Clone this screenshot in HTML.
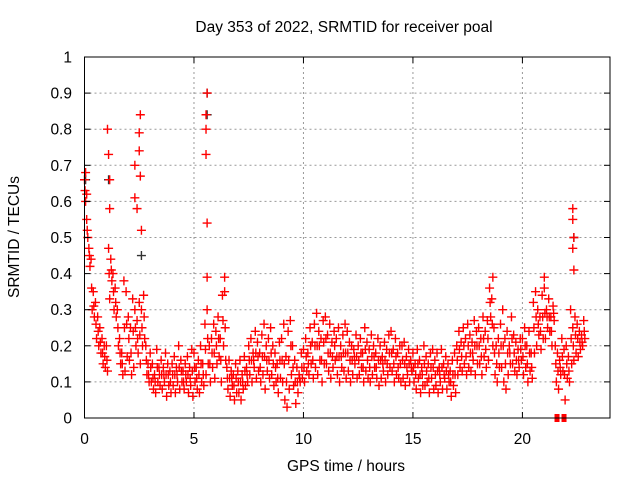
<!DOCTYPE html>
<html><head><meta charset="utf-8"><style>
body{margin:0;background:#fff}
svg{display:block;font-family:"Liberation Sans",sans-serif}
</style></head><body>
<svg id="chart" width="640" height="480" viewBox="0 0 640 480">
<text x="344" y="32" text-anchor="middle" font-size="15.5">Day 353 of 2022, SRMTID for receiver poal</text>
<text x="346" y="471" text-anchor="middle" font-size="15.5">GPS time / hours</text>
<text transform="translate(19,237) rotate(-90)" text-anchor="middle" font-size="15.5">SRMTID / TECUs</text>
<g id="grid"></g><g id="marks"></g><g id="axes"></g>
</svg>
<script>
const xTicks=[0,5,10,15,20];
const yTicks=[0,0.1,0.2,0.3,0.4,0.5,0.6,0.7,0.8,0.9,1];
const yTickLabels=["0","0.1","0.2","0.3","0.4","0.5","0.6","0.7","0.8","0.9","1"];
const times=[0,0.1,0.2,0.3,0.4,0.5,0.6,0.7,0.8,0.9,1,1.1,1.2,1.3,1.4,1.5,1.6,1.7,1.8,1.9,2,2.1,2.2,2.3,2.4,2.5,2.6,2.7,2.8,2.9,3,3.1,3.2,3.3,3.4,3.5,3.6,3.7,3.8,3.9,4,4.1,4.2,4.3,4.4,4.5,4.6,4.7,4.8,4.9,5,5.1,5.2,5.3,5.4,5.5,5.6,5.7,5.8,5.9,6,6.1,6.2,6.3,6.4,6.5,6.6,6.7,6.8,6.9,7,7.1,7.2,7.3,7.4,7.5,7.6,7.7,7.8,7.9,8,8.1,8.2,8.3,8.4,8.5,8.6,8.7,8.8,8.9,9,9.1,9.2,9.3,9.4,9.5,9.6,9.7,9.8,9.9,10,10.1,10.2,10.3,10.4,10.5,10.6,10.7,10.8,10.9,11,11.1,11.2,11.3,11.4,11.5,11.6,11.7,11.8,11.9,12,12.1,12.2,12.3,12.4,12.5,12.6,12.7,12.8,12.9,13,13.1,13.2,13.3,13.4,13.5,13.6,13.7,13.8,13.9,14,14.1,14.2,14.3,14.4,14.5,14.6,14.7,14.8,14.9,15,15.1,15.2,15.3,15.4,15.5,15.6,15.7,15.8,15.9,16,16.1,16.2,16.3,16.4,16.5,16.6,16.7,16.8,16.9,17,17.1,17.2,17.3,17.4,17.5,17.6,17.7,17.8,17.9,18,18.1,18.2,18.3,18.4,18.5,18.6,18.7,18.8,18.9,19,19.1,19.2,19.3,19.4,19.5,19.6,19.7,19.8,19.9,20,20.1,20.2,20.3,20.4,20.5,20.6,20.7,20.8,20.9,21,21.1,21.2,21.3,21.4,21.5,21.6,21.7,21.8,21.9,22,22.1,22.2,22.3,22.4,22.5,22.6,22.7,22.8];
const valuesA=[.66,.55,.47,.44,.35,.32,.28,.25,.22,.2,.2,.47,.44,.4,.36,.3,.22,.18,.38,.35,.28,.25,.33,.3,.27,.32,.3,.34,.2,.15,.18,.15,.12,.19,.14,.16,.14,.18,.15,.13,.15,.17,.14,.2,.16,.13,.15,.17,.14,.19,.18,.14,.16,.2,.15,.26,.3,.2,.22,.26,.24,.28,.22,.34,.35,.14,.16,.13,.12,.15,.13,.16,.12,.17,.14,.2,.22,.18,.24,.21,.18,.23,.26,.2,.22,.25,.2,.18,.15,.21,.22,.26,.17,.24,.27,.2,.16,.14,.12,.18,.19,.22,.18,.25,.21,.26,.29,.24,.22,.27,.28,.23,.26,.21,.24,.22,.25,.2,.23,.26,.24,.21,.2,.19,.23,.2,.22,.18,.25,.21,.19,.23,.2,.18,.22,.2,.17,.21,.19,.23,.24,.19,.22,.18,.2,.2,.21,.17,.19,.16,.18,.15,.19,.16,.14,.2,.17,.15,.18,.19,.16,.18,.14,.19,.15,.17,.15,.13,.16,.18,.2,.24,.21,.25,.22,.26,.23,.21,.27,.24,.25,.22,.28,.24,.27,.36,.33,.25,.2,.22,.26,.3,.22,.24,.2,.28,.23,.21,.19,.22,.22,.25,.2,.24,.18,.32,.35,.3,.28,.34,.36,.3,.33,.28,.31,.2,.18,.16,.22,.19,.2,.17,.3,.25,.28,.26,.24,.23,.27];
const valuesB=[.6,.5,.42,.3,.28,.22,.2,.18,.15,.14,.13,.33,.38,.3,.28,.2,.15,.12,.13,.17,.16,.12,.14,.2,.18,.15,.2,.22,.12,.1,.1,.08,.07,.1,.09,.08,.1,.06,.09,.07,.09,.07,.1,.08,.1,.08,.1,.07,.09,.06,.1,.08,.07,.1,.09,.12,.15,.1,.14,.11,.15,.17,.1,.2,.16,.08,.06,.09,.05,.07,.07,.05,.08,.09,.1,.12,.1,.14,.11,.13,.1,.12,.08,.13,.11,.12,.09,.1,.07,.11,.1,.05,.03,.08,.12,.09,.04,.07,.1,.11,.1,.13,.12,.15,.11,.14,.12,.16,.1,.15,.15,.13,.11,.14,.16,.12,.1,.14,.13,.11,.13,.1,.12,.15,.11,.12,.14,.1,.13,.11,.1,.12,.14,.11,.09,.11,.13,.1,.12,.14,.13,.1,.12,.11,.1,.11,.09,.12,.1,.13,.1,.08,.11,.07,.09,.09,.1,.07,.11,.08,.09,.07,.1,.08,.11,.08,.1,.06,.09,.07,.12,.14,.13,.15,.12,.14,.13,.16,.12,.15,.15,.12,.17,.14,.16,.28,.2,.12,.1,.14,.14,.1,.08,.12,.15,.15,.13,.12,.14,.16,.12,.14,.1,.13,.11,.18,.2,.23,.19,.22,.22,.25,.24,.2,.27,.1,.08,.12,.13,.05,.11,.1,.15,.16,.18,.17,.19,.2,.22];
const valuesC=[.63,.52,.45,.36,.31,.26,.24,.21,.18,.17,.16,.4,.41,.35,.32,.25,.18,.15,.25,.26,.22,.18,.24,.25,.22,.23,.25,.28,.16,.12,.14,.11,.1,.14,.12,.12,.12,.12,.12,.1,.12,.12,.12,.14,.13,.1,.12,.12,.11,.13,.14,.11,.12,.15,.12,.19,.22,.15,.18,.18,.2,.22,.16,.27,.25,.11,.11,.11,.09,.11,.1,.1,.1,.13,.12,.16,.16,.16,.18,.17,.14,.17,.17,.16,.16,.18,.15,.14,.11,.16,.16,.15,.1,.16,.2,.14,.1,.1,.11,.14,.14,.17,.15,.2,.16,.2,.2,.2,.16,.21,.22,.18,.18,.17,.2,.17,.17,.17,.18,.18,.18,.16,.16,.17,.17,.16,.18,.14,.19,.16,.14,.17,.17,.14,.16,.16,.15,.16,.15,.18,.18,.15,.17,.14,.15,.16,.15,.14,.15,.14,.14,.12,.15,.12,.12,.15,.13,.11,.14,.14,.12,.13,.12,.14,.12,.13,.12,.1,.12,.12,.16,.19,.17,.2,.17,.2,.18,.18,.2,.2,.2,.17,.22,.19,.22,.32,.26,.18,.15,.18,.2,.2,.15,.18,.18,.22,.18,.16,.16,.19,.17,.2,.15,.18,.14,.25,.28,.26,.24,.28,.29,.28,.28,.24,.29,.15,.13,.14,.17,.12,.15,.13,.22,.2,.23,.22,.21,.21,.24];
const spikeTimes=[0.05,0.1,1.05,1.1,1.15,1.15,2.3,2.3,2.4,2.5,2.55,2.5,2.55,2.6,5.6,5.55,5.55,5.55,5.6,5.6,6.4,18.65,21.0,22.3,22.3,22.35,22.3,22.35];
const spikeValues=[0.68,0.62,0.8,0.73,0.66,0.58,0.7,0.61,0.58,0.79,0.84,0.74,0.67,0.52,0.9,0.84,0.8,0.73,0.54,0.39,0.39,0.39,0.39,0.58,0.55,0.5,0.47,0.41];
const blackTimes=[0.05,1.1,2.6,5.6,5.6,22.35];
const blackValues=[0.66,0.66,0.45,0.9,0.84,0.5];
const zeroTimes=[21.58,21.9];
const zeroValues=[0,0];

const X0=84.5,X1=610,Y0=418,Y1=57,XMAX=24;
const sx=t=>X0+(X1-X0)*t/XMAX;
const sy=v=>Y0-(Y0-Y1)*v;
const NS="http://www.w3.org/2000/svg";
function mk(tag,parent,attrs){const e=document.createElementNS(NS,tag);for(const k in attrs)e.setAttribute(k,attrs[k]);parent.appendChild(e);return e;}
const grid=document.getElementById('grid'),marks=document.getElementById('marks'),axes=document.getElementById('axes');
xTicks.forEach(t=>{
 const x=sx(t);
 if(t>0){const g=mk('line',grid,{x1:x,x2:x,y1:Y1,y2:Y0,stroke:'#999','stroke-dasharray':'2,3'});
 
 }
 mk('line',axes,{x1:x,x2:x,y1:Y0,y2:Y0-6,stroke:'#000'});
 mk('line',axes,{x1:x,x2:x,y1:Y1,y2:Y1+6,stroke:'#000'});
 const l=mk('text',axes,{x:x,y:444,'text-anchor':'middle','font-size':'15.5'});l.textContent=String(t);
 
 
});
yTicks.forEach((v,i)=>{
 const y=sy(v);
 if(v>0&&v<1){const g=mk('line',grid,{x1:X0,x2:X1,y1:y,y2:y,stroke:'#999','stroke-dasharray':'2,3'});
 
 }
 mk('line',axes,{x1:X0,x2:X0+6,y1:y,y2:y,stroke:'#000'});
 mk('line',axes,{x1:X1,x2:X1-6,y1:y,y2:y,stroke:'#000'});
 const l=mk('text',axes,{x:72,y:y+5.5,'text-anchor':'end','font-size':'15.5'});l.textContent=yTickLabels[i];
 
 
});
const frame=mk('rect',axes,{x:X0,y:Y1,width:X1-X0,height:Y0-Y1,fill:'none',stroke:'#000'});


function plus(ts,vs,color,off,name){
 let d='';
 ts.forEach((t,i)=>{const x=sx(t+off),y=sy(vs[i]);d+=`M${x-4.5} ${y}h9M${x} ${y-4.5}v9`;});
 const p=mk('path',marks,{d:d,fill:'none'});
 p.setAttribute('style','stroke:'+color+';stroke-width:1.4');
 
 
}
plus(blackTimes,blackValues,'#333',0,'black-points');
plus(times,valuesA,'#ff0000',0,'series-a-points');
plus(times,valuesB,'#ff0000',0.05,'series-b-points');
plus(times,valuesC,'#ff0000',0.025,'series-c-points');
plus(spikeTimes,spikeValues,'#ff0000',0,'spike-points');
zeroTimes.forEach((t,i)=>{
 const r=mk('rect',marks,{x:sx(t)-2.5,y:sy(zeroValues[i])-4,width:5,height:8,fill:'#f00'});
 
 
});
</script>
</body></html>
